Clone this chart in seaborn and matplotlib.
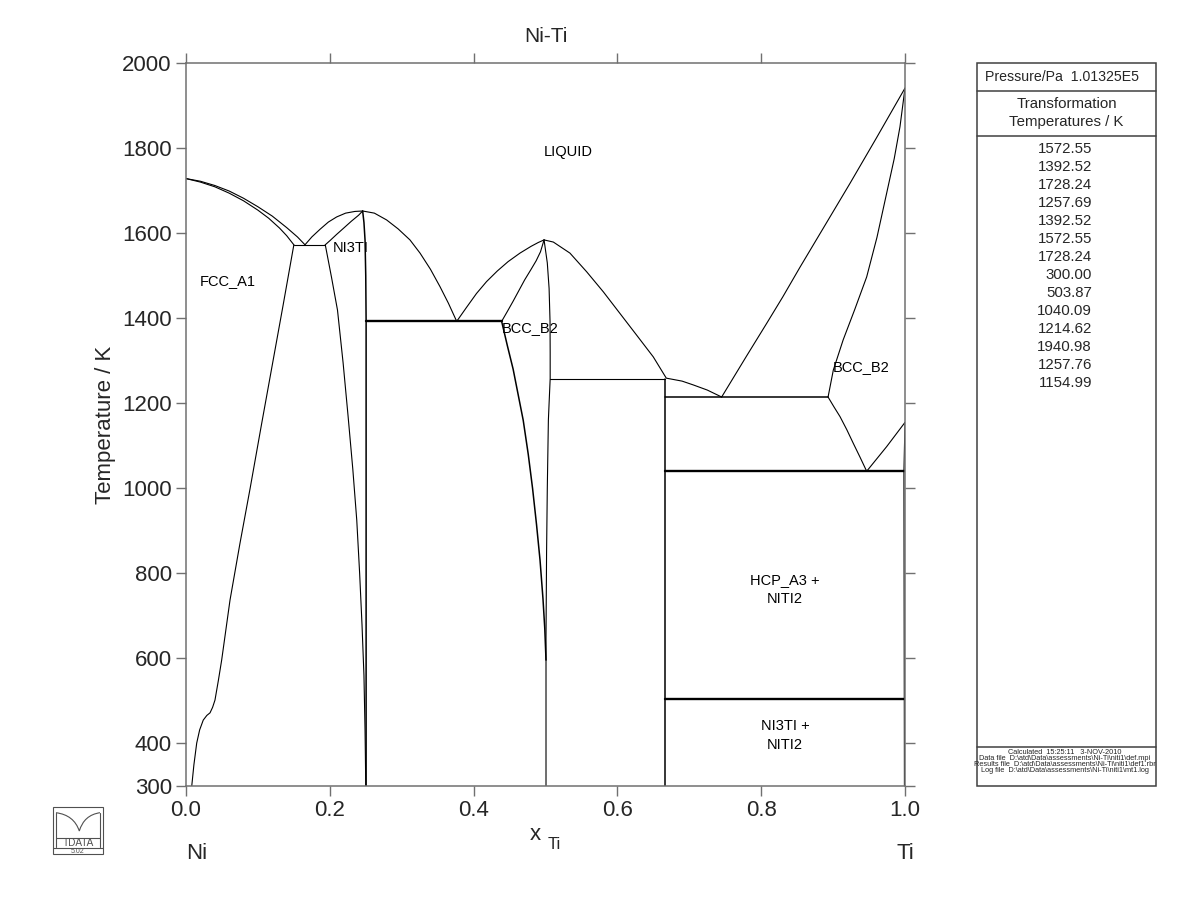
import numpy as np
import pandas as pd
import matplotlib
matplotlib.use("Agg")
import matplotlib.pyplot as plt
import seaborn as sns
from matplotlib.patches import Rectangle, PathPatch
from matplotlib.path import Path
from matplotlib.lines import Line2D

# ---------------- data (x_Ti, T/K) ----------------
fcc_liquidus_x = [0.0, 0.02, 0.04, 0.06, 0.08, 0.10, 0.12, 0.14, 0.155, 0.1655]
fcc_liquidus_T = [1728.24, 1722, 1712, 1699, 1682, 1662, 1640, 1613, 1591, 1572.55]
fcc_solidus_x = [0.0, 0.02, 0.04, 0.06, 0.08, 0.10, 0.115, 0.13, 0.14, 0.150]
fcc_solidus_T = [1728.24, 1720, 1709, 1694, 1676, 1654, 1635, 1612, 1594, 1572.55]
fcc_solvus_x = [0.008, 0.011, 0.0149, 0.019, 0.024, 0.029, 0.0334, 0.037, 0.0403, 0.045,
                0.0496, 0.0612, 0.075, 0.0892, 0.105, 0.120, 0.135, 0.150]
fcc_solvus_T = [300, 350, 401, 432, 455, 466, 472, 485, 502, 548,
                596, 737, 870, 1000, 1150, 1290, 1430, 1572.55]

ni3ti_liq_left_x = [0.1655, 0.175, 0.1864, 0.198, 0.2095, 0.222, 0.235, 0.2457]
ni3ti_liq_left_T = [1572.55, 1591, 1609, 1626, 1638, 1647, 1651, 1652]
ni3ti_sol_left_x = [0.1937, 0.200, 0.2095, 0.2188, 0.2300, 0.2400, 0.2457]
ni3ti_sol_left_T = [1572.55, 1582, 1597, 1611, 1628, 1642, 1652]
ni3ti_solvus_x = [0.1937, 0.2025, 0.2107, 0.2185, 0.2253, 0.232, 0.2375, 0.2415, 0.2448,
                  0.2475, 0.2490, 0.2495, 0.2500]
ni3ti_solvus_T = [1572.55, 1495, 1419, 1295, 1172, 1045, 925, 800, 679,
                  560, 432, 370, 300]
ni3ti_right_x = [0.2457, 0.2475, 0.2490, 0.2500, 0.2505, 0.2505]
ni3ti_right_T = [1652, 1625, 1584, 1500, 1392.52, 300]
ni3ti_liq_right_x = [0.2457, 0.262, 0.279, 0.295, 0.3115, 0.3255, 0.340, 0.3533, 0.365, 0.3765]
ni3ti_liq_right_T = [1652, 1647, 1631, 1610, 1584, 1553, 1515, 1474, 1435, 1392.52]

niti_liq_left_x = [0.3765, 0.39, 0.404, 0.418, 0.433, 0.448, 0.4645, 0.480, 0.490, 0.498]
niti_liq_left_T = [1392.52, 1425, 1458, 1486, 1511, 1533, 1553, 1569, 1578, 1584]
niti_sol_left_x = [0.439, 0.447, 0.455, 0.463, 0.471, 0.480, 0.487, 0.493, 0.498]
niti_sol_left_T = [1392.52, 1416, 1440, 1465, 1490, 1515, 1535, 1556, 1584]
niti_solvus_left_x = [0.439, 0.447, 0.455, 0.462, 0.469, 0.476, 0.482, 0.4875, 0.4924,
                      0.4965, 0.4990, 0.5007]
niti_solvus_left_T = [1392.52, 1335, 1280, 1220, 1160, 1080, 1000, 915, 831,
                      740, 670, 596]
niti_right_x = [0.498, 0.5025, 0.505, 0.5063, 0.5065, 0.5065, 0.505, 0.504, 0.5025,
                0.5015, 0.5007, 0.5007]
niti_right_T = [1584, 1530, 1470, 1393, 1320, 1257.69, 1200, 1160, 1000,
                850, 650, 300]
liq_right_x = [0.498, 0.5109, 0.534, 0.5573, 0.5804, 0.6036, 0.6268, 0.6499, 0.668,
               0.690, 0.7056, 0.725, 0.745]
liq_right_T = [1584, 1579, 1553, 1509, 1462, 1411, 1360, 1309, 1259,
               1252, 1243, 1231, 1214.62]

bcc_liq_x = [0.745, 0.780, 0.8077, 0.830, 0.854, 0.890, 0.9235, 0.960, 1.0]
bcc_liq_T = [1214.62, 1312, 1388, 1450, 1520, 1622, 1717, 1823, 1940.98]
bcc_sol_x = [0.893, 0.9003, 0.914, 0.930, 0.9467, 0.961, 0.9745, 0.985, 0.993, 1.0]
bcc_sol_T = [1214.62, 1278, 1349, 1420, 1497, 1590, 1694, 1775, 1850, 1940.98]
bcc_solvus_x = [0.893, 0.901, 0.9096, 0.919, 0.928, 0.9375, 0.9467]
bcc_solvus_T = [1214.62, 1192, 1168.6, 1138, 1106, 1073, 1040.09]
bcc_hcp_x = [0.9467, 0.9745, 1.0]
bcc_hcp_T = [1040.09, 1098, 1154.99]
hcp_ti_x = [1.0, 0.9985, 0.9992]
hcp_ti_T = [1154.99, 1040.09, 300]
niti2_x = [0.6667, 0.6667]
niti2_T = [1257.69, 300]

# invariant reactions: (T, x_start, x_end)
inv_T = [1572.55, 1392.52, 1257.69, 1214.62, 1040.09, 503.87]
inv_x0 = [0.150, 0.2505, 0.5065, 0.6667, 0.6667, 0.6667]
inv_x1 = [0.1937, 0.439, 0.6667, 0.893, 1.0, 1.0]
inv_weight = ["thin", "bold", "thin", "mid", "bold", "bold"]

transformation_T = ["1572.55", "1392.52", "1728.24", "1257.69", "1392.52", "1572.55",
                    "1728.24", "300.00", "503.87", "1040.09", "1214.62", "1940.98",
                    "1257.76", "1154.99"]

x_ticks = [0.0, 0.2, 0.4, 0.6, 0.8, 1.0]
y_ticks = [300, 400, 600, 800, 1000, 1200, 1400, 1600, 1800, 2000]

# ---------------- build long table ----------------
rows = []
def add(name, xs, Ts, w):
    for i, (a, b) in enumerate(zip(xs, Ts)):
        rows.append((name, i, a, b, w))

add("fcc_liq", fcc_liquidus_x, fcc_liquidus_T, "thin")
add("fcc_sol", fcc_solidus_x, fcc_solidus_T, "thin")
add("fcc_solvus", fcc_solvus_x, fcc_solvus_T, "thin")
add("ni3ti_liq_l", ni3ti_liq_left_x, ni3ti_liq_left_T, "thin")
add("ni3ti_sol_l", ni3ti_sol_left_x, ni3ti_sol_left_T, "thin")
add("ni3ti_solvus", ni3ti_solvus_x, ni3ti_solvus_T, "thin")
add("ni3ti_right", ni3ti_right_x, ni3ti_right_T, "mid")
add("ni3ti_liq_r", ni3ti_liq_right_x, ni3ti_liq_right_T, "thin")
add("niti_liq_l", niti_liq_left_x, niti_liq_left_T, "thin")
add("niti_sol_l", niti_sol_left_x, niti_sol_left_T, "thin")
add("niti_solvus_l", niti_solvus_left_x, niti_solvus_left_T, "mid")
add("niti_right", niti_right_x, niti_right_T, "thin")
add("liq_right", liq_right_x, liq_right_T, "thin")
add("bcc_liq", bcc_liq_x, bcc_liq_T, "thin")
add("bcc_sol", bcc_sol_x, bcc_sol_T, "thin")
add("bcc_solvus", bcc_solvus_x, bcc_solvus_T, "thin")
add("bcc_hcp", bcc_hcp_x, bcc_hcp_T, "thin")
add("hcp_ti", hcp_ti_x, hcp_ti_T, "thin")
add("niti2", niti2_x, niti2_T, "mid")
for k, (t, a, b, w) in enumerate(zip(inv_T, inv_x0, inv_x1, inv_weight)):
    add(f"inv{k}", [a, b], [t, t], w)

df = pd.DataFrame(rows, columns=["curve", "order", "x", "T", "weight"])

# ---------------- style ----------------
sns.set_theme(style="ticks")
plt.rcParams["font.family"] = ["Liberation Sans", "DejaVu Sans"]

W, H = 1200, 923
fig = plt.figure(figsize=(12, 9.23), dpi=100)
def fx(px): return px / W
def fy(py): return 1 - py / H

ax = fig.add_axes([fx(186), fy(786), (905 - 186) / W, (786 - 63) / H])

lw_map = {"thin": 0.8, "mid": 1.1, "bold": 1.7}
for w, lw in lw_map.items():
    sub = df[df["weight"] == w]
    sns.lineplot(data=sub, x="x", y="T", units="curve", estimator=None, sort=False,
                 color="black", lw=lw, ax=ax, legend=False)

ax.set_xlim(0, 1)
ax.set_ylim(300, 2000)
ax.set_xticks(x_ticks)
ax.set_xticklabels([f"{v:.1f}" for v in x_ticks])
ax.set_yticks(y_ticks)
ax.set_yticklabels([str(v) for v in y_ticks])
ax.tick_params(axis="both", which="both", direction="out", length=7.2, width=1.0,
               color="#707070", labelsize=16, pad=3, top=True, right=True,
               labeltop=False, labelright=False)
for s in ax.spines.values():
    s.set_color("#707070")
    s.set_linewidth(1.1)

ax.set_ylabel("Temperature / K", fontsize=16)
ax.yaxis.set_label_coords(-0.097, 0.5)
ax.set_xlabel("x", fontsize=16)
ax.xaxis.set_label_coords(0.4853, -0.053)
ax.text(0.5125, -0.0805, "Ti", transform=ax.transAxes, ha="center", va="center", fontsize=12)
ax.set_title("Ni-Ti", fontsize=15, pad=15)

ax.text(0.0, -0.093, "Ni", transform=ax.transAxes, ha="left", va="center", fontsize=16)
ax.text(1.0, -0.093, "Ti", transform=ax.transAxes, ha="center", va="center", fontsize=16)

# phase labels
lab = dict(fontsize=10.5, color="black")
ax.text(0.532, 1791, "LIQUID", ha="center", va="center", **lab)
ax.text(0.058, 1488, "FCC_A1", ha="center", va="center", **lab)
ax.text(0.2035, 1564, "NI3TI", ha="left", va="center", **lab)
ax.text(0.439, 1376, "BCC_B2", ha="left", va="center", **lab)
ax.text(0.8995, 1285, "BCC_B2", ha="left", va="center", **lab)
ax.text(0.833, 762, "HCP_A3 +\nNITI2", ha="center", va="center", linespacing=1.45, **lab)
ax.text(0.833, 418, "NI3TI +\nNITI2", ha="center", va="center", linespacing=1.45, **lab)

# ---------------- right information panel ----------------
edge = "#404040"
bx0, bx1, by0, by1 = 976.7, 1156, 63, 786
fig.add_artist(Rectangle((fx(bx0), fy(by1)), (bx1 - bx0) / W, (by1 - by0) / H,
                         transform=fig.transFigure, fill=False, ec=edge, lw=1.1))
for py in [90.7, 136, 746.7]:
    fig.add_artist(Line2D([fx(bx0), fx(bx1)], [fy(py), fy(py)], transform=fig.transFigure,
                          color=edge, lw=1.1))
fig.text(fx(1062), fy(77.3), "Pressure/Pa  1.01325E5", ha="center", va="center", fontsize=10.2)
fig.text(fx(1066.5), fy(104.3), "Transformation", ha="center", va="center", fontsize=10.8)
fig.text(fx(1066.5), fy(122.3), "Temperatures / K", ha="center", va="center", fontsize=10.8)
for i, v in enumerate(transformation_T):
    fig.text(fx(1092), fy(149.3 + 18.0 * i), v, ha="right", va="center", fontsize=10.8)
info_lines = ["Calculated  15:25:11   3-NOV-2010",
              "Data file  D:\\atd\\Data\\assessments\\Ni-Ti\\niti1\\def.mpi",
              "Results file  D:\\atd\\Data\\assessments\\Ni-Ti\\niti1\\def1.rbr",
              "Log file  D:\\atd\\Data\\assessments\\Ni-Ti\\niti1\\mt1.log"]
for i, s in enumerate(info_lines):
    fig.text(fx(1065), fy(752.7 + 5.9 * i), s, ha="center", va="center", fontsize=5.3)

# ---------------- logo (bottom-left) ----------------
lc = "#505050"
fig.add_artist(Rectangle((fx(52.7), fy(854.3)), 50 / W, (854.3 - 806.7) / H,
                         transform=fig.transFigure, fill=False, ec=lc, lw=0.8))
fig.add_artist(Line2D([fx(52.7), fx(102.7)], [fy(848.3), fy(848.3)], transform=fig.transFigure,
                      color=lc, lw=0.8))
fig.add_artist(Line2D([fx(56), fx(56)], [fy(812.7), fy(847)], transform=fig.transFigure, color=lc, lw=0.8))
fig.add_artist(Line2D([fx(100), fx(100)], [fy(812.7), fy(847)], transform=fig.transFigure, color=lc, lw=0.8))
fig.add_artist(Line2D([fx(56), fx(100)], [fy(838), fy(838)], transform=fig.transFigure, color=lc, lw=0.8))
arc = Path([(fx(56), fy(812.7)), (fx(74), fy(815)), (fx(79.3), fy(831)),
            (fx(84), fy(815)), (fx(100), fy(812.7))],
           [Path.MOVETO, Path.CURVE3, Path.CURVE3, Path.CURVE3, Path.CURVE3])
fig.add_artist(PathPatch(arc, transform=fig.transFigure, fill=False, ec=lc, lw=0.8))
fig.text(fx(78), fy(843.2), "TDATA", ha="center", va="center", fontsize=7.2, color=lc)
fig.text(fx(78), fy(851.5), "5.02", ha="center", va="center", fontsize=5.0, color=lc)

fig.savefig("out.png", dpi=100)
